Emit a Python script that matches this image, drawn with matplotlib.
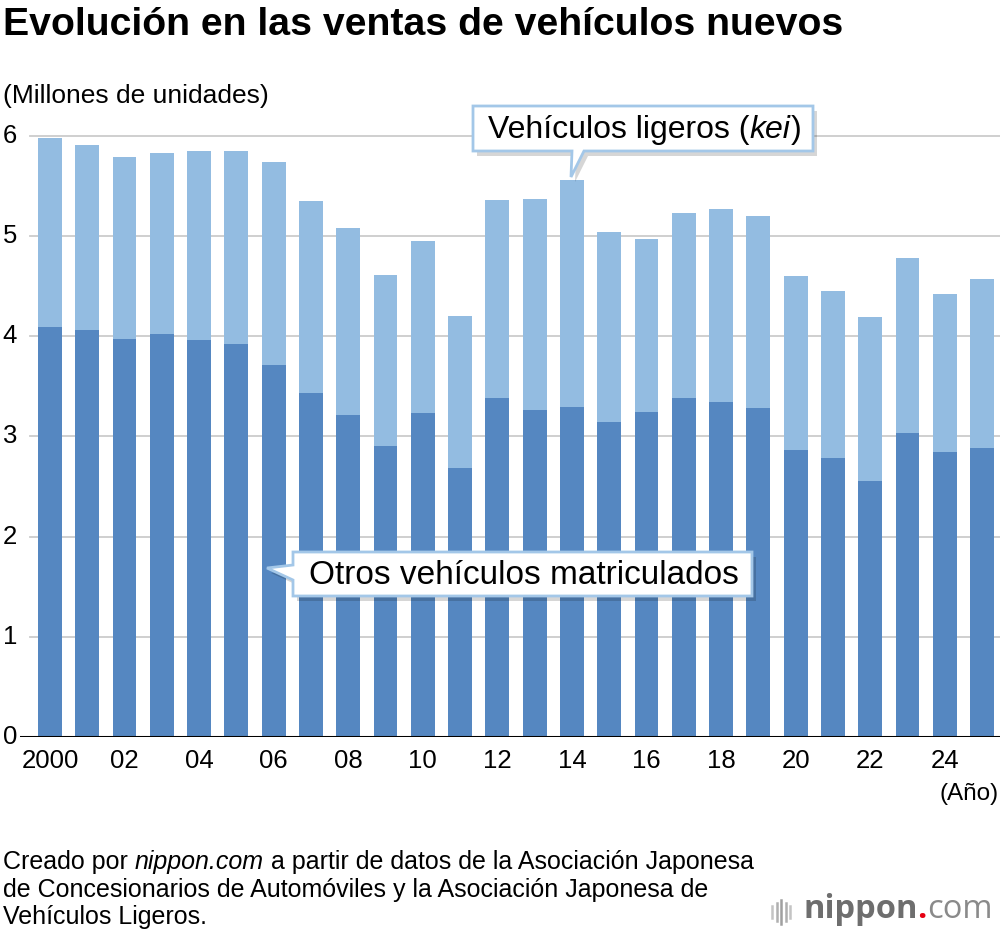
import matplotlib
matplotlib.use("Agg")
import matplotlib.pyplot as plt
from matplotlib.patches import Polygon
import numpy as np

years = list(range(2000, 2026))
otros = [4.09, 4.06, 3.97, 4.02, 3.96, 3.92, 3.71, 3.43, 3.21, 2.91, 3.23, 2.69, 3.38,
         3.26, 3.29, 3.14, 3.24, 3.38, 3.34, 3.28, 2.87, 2.79, 2.56, 3.03, 2.85, 2.89]
total = [5.98, 5.91, 5.79, 5.83, 5.85, 5.85, 5.74, 5.35, 5.08, 4.61, 4.95, 4.20, 5.36,
         5.37, 5.56, 5.04, 4.97, 5.23, 5.27, 5.20, 4.60, 4.45, 4.19, 4.78, 4.42, 4.57]
kei = [t - o for t, o in zip(total, otros)]
xtick_labels = ["2000", "02", "04", "06", "08", "10", "12", "14", "16", "18", "20", "22", "24"]
yticks = [0, 1, 2, 3, 4, 5, 6]

DARK = "#5587c1"
LIGHT = "#93bce1"
FONT = "Liberation Sans"
plt.rcParams['font.family'] = [FONT, 'DejaVu Sans']

W, H = 1000, 936
fig = plt.figure(figsize=(10, 9.36), dpi=100)
renderer = fig.canvas.get_renderer()

def fx(x):
    return x / W

def fy(y):
    return 1 - y / H

def seq_text(x0, y, pieces, va="center", zorder=11):
    """Draw text pieces left-to-right starting at pixel x0."""
    cur = x0
    for s, kw in pieces:
        t = fig.text(fx(cur), fy(y), s, ha="left", va=va, zorder=zorder, **kw)
        bb = t.get_window_extent(renderer=renderer)
        cur += bb.width
    return cur

def text_width(pieces):
    total_w = 0
    for s, kw in pieces:
        t = fig.text(0, 0, s, **kw)
        total_w += t.get_window_extent(renderer=renderer).width
        t.remove()
    return total_w

# axes: x from 20 to 1000 px, y 0 -> 737 px, 6 -> 136 px
y0, y6 = 737, 136
ppu = (y0 - y6) / 6
ymax = 6.12
ax_top = y0 - ymax * ppu
ax = fig.add_axes([fx(20), fy(y0), fx(1000) - fx(20), (y0 - ax_top) / H])

x = np.arange(len(years))
bw = 0.64
ax.bar(x, otros, width=bw, color=DARK, zorder=3)
ax.bar(x, kei, width=bw, bottom=otros, color=LIGHT, zorder=3)

ax.set_ylim(0, ymax)
spacing = (982 - 50) / 25
ax.set_xlim(-(50 - 20) / spacing, 25 + (1000 - 982) / spacing)

for yv in yticks[1:]:
    ax.axhline(yv, xmin=(30 - 20) / 980, xmax=1, color="#cccccc", lw=1.3, zorder=1)
ax.axhline(0, color="black", lw=2.2, zorder=4)
for s in ax.spines.values():
    s.set_visible(False)
ax.set_yticks([])
ax.set_xticks([])

TICK_FS = 18.5
for yv in yticks:
    ax.text(-(50 - 10) / spacing, yv, str(yv), ha="center", va="center",
            fontsize=TICK_FS, color="black", transform=ax.transData)
for i, lab in enumerate(xtick_labels):
    ax.text(2 * i, -0.12, lab, ha="center", va="top", fontsize=TICK_FS,
            transform=ax.transData)

fig.text(fx(999), fy(794), "(Año)", ha="right", va="center", fontsize=17.5)

# titles
fig.text(fx(3), fy(25), "Evolución en las ventas de vehículos nuevos", ha="left",
         va="center", fontsize=28.3, fontweight="bold")
fig.text(fx(3), fy(96), "(Millones de unidades)", ha="left", va="center", fontsize=19)

# footer
FFS = 18
seq_text(3, 862, [("Creado por ", dict(fontsize=FFS)),
                  ("nippon.com", dict(fontsize=FFS, style="italic")),
                  (" a partir de datos de la Asociación Japonesa", dict(fontsize=FFS))])
fig.text(fx(3), fy(890), "de Concesionarios de Automóviles y la Asociación Japonesa de",
         ha="left", va="center", fontsize=FFS)
fig.text(fx(3), fy(917), "Vehículos Ligeros.", ha="left", va="center", fontsize=FFS)

# logo
for i, (hh, col) in enumerate([(12, "#c4c4c4"), (18, "#b0b0b0"), (24, "#a0a0a0"),
                               (18, "#b0b0b0"), (12, "#c4c4c4")]):
    xx = 772 + i * 4.6
    fig.add_artist(plt.Line2D([fx(xx), fx(xx)], [fy(912 + hh / 2), fy(912 - hh / 2)],
                              transform=fig.transFigure, color=col, lw=1.8))
LFS = 23.5
seq_text(803, 910, [("nippon", dict(fontsize=LFS, fontweight="bold", color="#6e6e6e",
                                    family="Open Sans")),
                    (".", dict(fontsize=LFS, fontweight="bold", color="#e60012",
                               family="Open Sans")),
                    ("com", dict(fontsize=LFS, color="#8a8a8a", family="Open Sans"))])

# callouts
def callout(pts, pieces, cx, cy):
    shadow = [(fx(px + 4), fy(py + 5)) for px, py in pts]
    fig.add_artist(Polygon(shadow, closed=True, transform=fig.transFigure,
                           facecolor="#000000", alpha=0.16, edgecolor="none", zorder=9))
    fig.add_artist(Polygon([(fx(px), fy(py)) for px, py in pts], closed=True,
                           transform=fig.transFigure, facecolor="white",
                           edgecolor="#a3c7e8", lw=2, zorder=10))
    w = text_width(pieces)
    seq_text(cx - w / 2, cy, pieces)

pts1 = [(473, 106), (813, 106), (813, 151), (584, 151), (571, 177), (572, 151), (473, 151)]
callout(pts1, [("Vehículos ligeros (", dict(fontsize=23)),
               ("kei", dict(fontsize=23, style="italic")),
               (")", dict(fontsize=23))], 645, 130)

pts2 = [(293, 552), (752, 552), (752, 596), (293, 596), (293, 580), (267, 568), (293, 565)]
callout(pts2, [("Otros vehículos matriculados", dict(fontsize=24))], 524, 576)

fig.savefig("out.png", dpi=100)
